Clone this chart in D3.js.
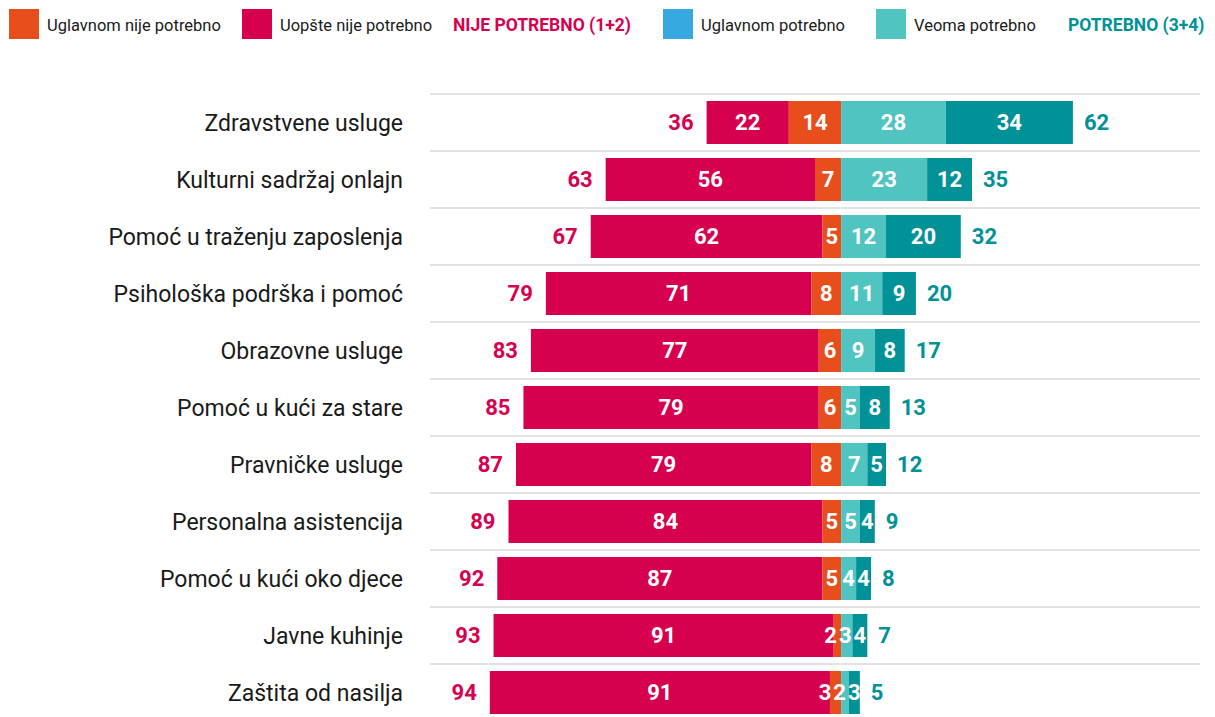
<!doctype html>
<html>
  <head>
    <meta charset="utf-8">
    <script src="https://cdnjs.cloudflare.com/ajax/libs/d3/7.8.5/d3.min.js"></script>
    <style>
      body { margin: 0; background: #fff; }
      svg { font-family: Roboto, "Liberation Sans", sans-serif; }
      text.cat { font-size: 23px; fill: #1a1a1a; }
      text.val { font-size: 22px; font-weight: bold; fill: #fff; }
      text.tot { font-size: 22px; font-weight: bold; }
      text.leg { font-size: 16.5px; fill: #1a1a1a; }
      line.grid { stroke: #d8d8d8; stroke-width: 1.5; }
    </style>
  </head>
  <body>
    <svg width="1215" height="717"></svg>
    <script>
      // data
      var categories = ["Zdravstvene usluge", "Kulturni sadržaj onlajn", "Pomoć u traženju zaposlenja",
        "Psihološka podrška i pomoć", "Obrazovne usluge", "Pomoć u kući za stare", "Pravničke usluge",
        "Personalna asistencija", "Pomoć u kući oko djece", "Javne kuhinje", "Zaštita od nasilja"];
      var uopsteNije   = [22, 56, 62, 71, 77, 79, 79, 84, 87, 91, 91];
      var uglavnomNije = [14, 7, 5, 8, 6, 6, 8, 5, 5, 2, 3];
      var uglavnomDa   = [28, 23, 12, 11, 9, 5, 7, 5, 4, 3, 2];
      var veomaDa      = [34, 12, 20, 9, 8, 8, 5, 4, 4, 4, 3];
      var nijeTotal    = [36, 63, 67, 79, 83, 85, 87, 89, 92, 93, 94];
      var jesteTotal   = [62, 35, 32, 20, 17, 13, 12, 9, 8, 7, 5];

      var legendItems = [
        {label: "Uglavnom nije potrebno", color: "#e84e1b", x: 9},
        {label: "Uopšte nije potrebno", color: "#d6004f", x: 242},
        {label: "NIJE POTREBNO (1+2)", color: null, text: "#d6004f", x: 453},
        {label: "Uglavnom potrebno", color: "#36a9e1", x: 663},
        {label: "Veoma potrebno", color: "#4fc4c1", x: 876},
        {label: "POTREBNO (3+4)", color: null, text: "#009297", x: 1068}
      ];

      var pink = "#d6004f", orange = "#e84e1b", ltTeal = "#4fc4c1", dkTeal = "#009297";

      var svg = d3.select("svg");

      var x = d3.scaleLinear().domain([-110, 96]).range([430, 1200]);
      var y = d3.scaleBand().domain(categories).range([94, 94 + 57 * categories.length]);
      var barH = 43;

      // legend
      var leg = svg.append("g").selectAll("g").data(legendItems).enter().append("g")
        .attr("transform", d => "translate(" + d.x + ",0)");
      leg.filter(d => d.color).append("rect")
        .attr("x", 0).attr("y", 9).attr("width", 30).attr("height", 30)
        .attr("fill", d => d.color);
      leg.append("text")
        .attr("class", "leg")
        .attr("x", d => d.color ? 38 : 0)
        .attr("y", 25)
        .attr("dy", "0.35em")
        .style("font-weight", d => d.color ? null : "bold")
        .style("font-size", d => d.color ? null : "17.5px")
        .style("fill", d => d.color ? null : d.text)
        .text(d => d.label);

      // grid lines between rows
      svg.append("g").selectAll("line").data(categories).enter().append("line")
        .attr("class", "grid")
        .attr("x1", 430).attr("x2", 1200)
        .attr("y1", d => y(d)).attr("y2", d => y(d));

      var rows = categories.map((c, i) => ({
        name: c,
        segs: [
          {v: uopsteNije[i], x0: -uopsteNije[i] - uglavnomNije[i], x1: -uglavnomNije[i], color: pink},
          {v: uglavnomNije[i], x0: -uglavnomNije[i], x1: 0, color: orange},
          {v: uglavnomDa[i], x0: 0, x1: uglavnomDa[i], color: ltTeal},
          {v: veomaDa[i], x0: uglavnomDa[i], x1: uglavnomDa[i] + veomaDa[i], color: dkTeal}
        ],
        left: nijeTotal[i],
        right: jesteTotal[i]
      }));

      var row = svg.append("g").selectAll("g").data(rows).enter().append("g")
        .attr("transform", d => "translate(0," + (y(d.name) + y.bandwidth() / 2) + ")");

      row.append("text")
        .attr("class", "cat")
        .attr("x", 403)
        .attr("dy", "0.35em")
        .attr("text-anchor", "end")
        .text(d => d.name);

      row.selectAll("rect").data(d => d.segs).enter().append("rect")
        .attr("x", d => x(d.x0))
        .attr("width", d => x(d.x1) - x(d.x0))
        .attr("y", -barH / 2)
        .attr("height", barH)
        .attr("fill", d => d.color);

      // value labels, pushed apart where segments are too narrow
      row.each(function(d) {
        var g = d3.select(this);
        var labels = g.selectAll("text.val").data(d.segs).enter().append("text")
          .attr("class", "val")
          .attr("text-anchor", "middle")
          .attr("dy", "0.35em")
          .text(s => s.v);
        var cx = d.segs.map(s => (x(s.x0) + x(s.x1)) / 2);
        var w = [];
        labels.each(function() { w.push(this.getComputedTextLength()); });
        for (var k = cx.length - 2; k >= 0; k--) {
          var gap = (w[k] + w[k + 1]) / 2 + 2;
          if (cx[k + 1] - cx[k] < gap) cx[k] = cx[k + 1] - gap;
        }
        labels.attr("x", (s, k) => cx[k]);
      });

      row.append("text")
        .attr("class", "tot")
        .attr("x", d => x(d.segs[0].x0) - 13)
        .attr("dy", "0.35em")
        .attr("text-anchor", "end")
        .style("fill", pink)
        .text(d => d.left);

      row.append("text")
        .attr("class", "tot")
        .attr("x", d => x(d.segs[3].x1) + 11)
        .attr("dy", "0.35em")
        .style("fill", dkTeal)
        .text(d => d.right);
    </script>
  </body>
</html>
